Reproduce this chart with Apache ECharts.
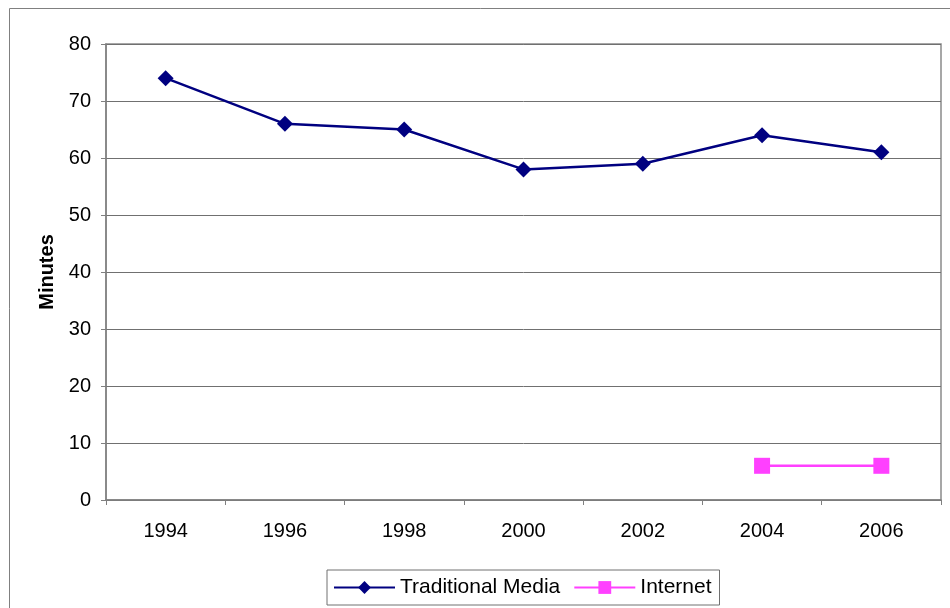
<!DOCTYPE html>
<html>
<head>
<meta charset="utf-8">
<script src="https://cdn.jsdelivr.net/npm/echarts@6/dist/echarts.min.js"></script>
<style>html,body{margin:0;padding:0;background:#fff;}#c{width:950px;height:608px;}</style>
</head>
<body>
<div id="c"></div>
<script>
var years = ['1994','1996','1998','2000','2002','2004','2006'];
var traditionalMedia = [74, 66, 65, 58, 59, 64, 61];
var internet = [null, null, null, null, null, 6, 6];
var yTicks = [0, 10, 20, 30, 40, 50, 60, 70, 80];

var chart = echarts.init(document.getElementById('c'));
var font = 'Liberation Sans, Arial, sans-serif';
chart.setOption({
  animation: false,
  backgroundColor: '#fff',
  graphic: [{
    type: 'rect', left: 7, top: 6, silent: true,
    shape: {width: 960, height: 620},
    style: {fill: 'none', stroke: '#808080', lineWidth: 1}
  }],
  grid: {left: 106, right: 9, top: 44, bottom: 108, show: true, borderColor: '#8a8a8a', borderWidth: 1.5, backgroundColor: 'transparent'},
  xAxis: {
    type: 'category', data: years, boundaryGap: true,
    axisLine: {lineStyle: {color: '#808080', width: 1.5}},
    axisTick: {show: true, length: 5, lineStyle: {color: '#808080'}},
    axisLabel: {color: '#000', fontFamily: font, fontSize: 20, margin: 21}
  },
  yAxis: {
    type: 'value', min: yTicks[0], max: yTicks[yTicks.length-1], interval: 10,
    name: 'Minutes', nameLocation: 'middle', nameGap: 49,
    nameTextStyle: {color: '#000', fontFamily: font, fontSize: 20, fontWeight: 'bold'},
    axisLine: {show: true, lineStyle: {color: '#808080', width: 1.5}},
    axisTick: {show: true, length: 5, lineStyle: {color: '#808080'}},
    axisLabel: {color: '#000', fontFamily: font, fontSize: 20, margin: 15},
    splitLine: {show: true, lineStyle: {color: '#707070', width: 1}}
  },
  legend: {
    left: 327, top: 570,
    padding: [7, 8, 7, 6],
    borderColor: '#707070', borderWidth: 1,
    itemWidth: 61, itemHeight: 16, itemGap: 13,
    textStyle: {color: '#000', fontFamily: font, fontSize: 21},
    data: ['Traditional Media', 'Internet']
  },
  series: [
    {
      name: 'Traditional Media', type: 'line', data: traditionalMedia,
      symbol: 'diamond', symbolSize: 16,
      lineStyle: {color: '#000080', width: 2.5},
      itemStyle: {color: '#000080'}
    },
    {
      name: 'Internet', type: 'line', data: internet,
      symbol: 'rect', symbolSize: 16,
      lineStyle: {color: '#FF40FF', width: 2.5},
      itemStyle: {color: '#FF40FF'}
    }
  ]
});
</script>
</body>
</html>
